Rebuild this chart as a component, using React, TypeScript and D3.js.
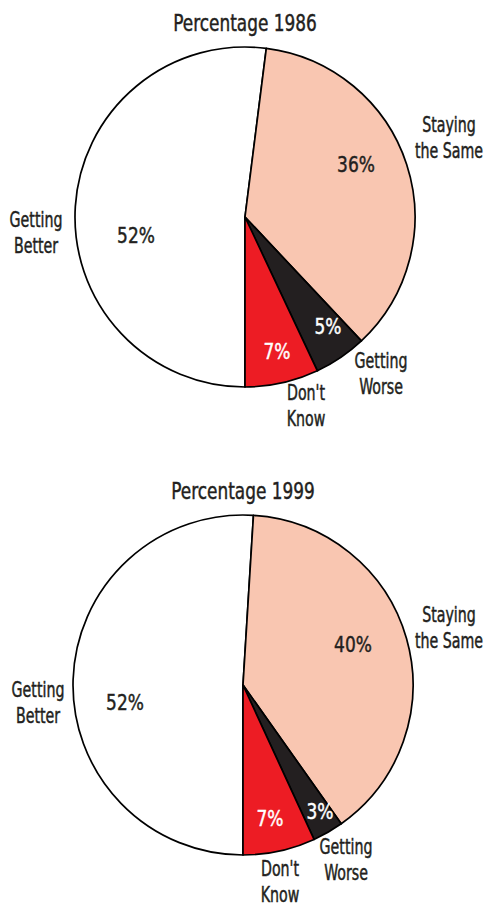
import React from "react";
import * as d3 from "d3";

const categories = ["Getting Better", "Staying the Same", "Getting Worse", "Don't Know"];
const titles = ["Percentage 1986", "Percentage 1999"];
const values1986 = [52, 36, 5, 7];
const values1999 = [52, 40, 3, 7];
const colors = ["#FFFFFF", "#F9C6B1", "#231F20", "#ED1C24"];
const pctColors = ["#231F20", "#231F20", "#FFFFFF", "#FFFFFF"];

// label layout (baseline offsets of first line, relative to pie center), per pie
const catLabelPos = [
  [[-209, 10], [204, -85], [136, 151], [61, 183]],
  [[-205, 12], [206, -63], [103, 169], [37, 191]],
];
const pctLabelPos = [
  [[-109, 26], [111, -45], [83, 117], [32, 142]],
  [[-118, 25], [110, -33], [77, 134], [27, 141]],
];

const FONT = "'DejaVu Sans Condensed', 'DejaVu Sans', sans-serif";
const TEXT = "#231F20";

function SText({ x, y, s, size, fill, children }: any) {
  return (
    <g transform={`translate(${x},${y}) scale(${s},1)`}>
      <text x={0} y={0} textAnchor="middle" fontFamily={FONT} fontSize={size} fill={fill}
        stroke={fill} strokeWidth={0.45}>
        {children}
      </text>
    </g>
  );
}

function Pie({ values, title, cx, cy, r, idx }: any) {
  const pie = d3.pie<number>().sort(null).startAngle(Math.PI).endAngle(3 * Math.PI);
  const arcs = pie(values);
  const arc = d3.arc<any>().innerRadius(0).outerRadius(r);
  return (
    <g>
      <SText x={cx} y={cy - r - 16} s={0.8} size={23.5} fill={TEXT}>{title}</SText>
      <g transform={`translate(${cx},${cy})`}>
        {arcs.map((a, i) => (
          <path key={i} d={arc(a) as string} fill={colors[i]} stroke="#000" strokeWidth={1.7} strokeLinejoin="round" />
        ))}
        {arcs.map((a, i) => {
          const [lx, ly] = catLabelPos[idx][i];
          const words = categories[i].split(" ");
          const lines = words.length > 2 ? [words[0], words.slice(1).join(" ")] : words;
          return (
            <g key={"c" + i}>
              {lines.map((l, j) => (
                <SText key={j} x={lx} y={ly + j * 26} s={0.77} size={20.5} fill={TEXT}>{l}</SText>
              ))}
            </g>
          );
        })}
        {arcs.map((a, i) => {
          const [px, py] = pctLabelPos[idx][i];
          return (
            <SText key={"p" + i} x={px} y={py} s={0.86} size={22} fill={pctColors[i]}>
              {values[i]}%
            </SText>
          );
        })}
      </g>
    </g>
  );
}

export default function App() {
  return (
    <svg width={485} height={906} style={{ position: "absolute", left: 0, top: 0, background: "#fff" }}>
      <Pie values={values1986} title={titles[0]} cx={245} cy={217} r={170} idx={0} />
      <Pie values={values1999} title={titles[1]} cx={243} cy={685} r={170} idx={1} />
    </svg>
  );
}
